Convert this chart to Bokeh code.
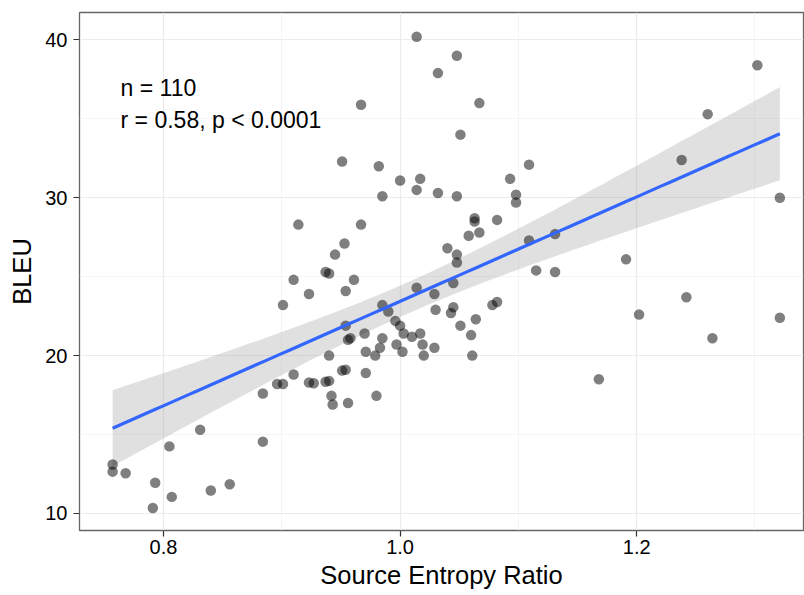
import numpy as np
from bokeh.plotting import figure
from bokeh.models import Range1d, FixedTicker, ColumnDataSource
from bokeh.core.properties import value
from bokeh.embed import file_html
from bokeh.resources import INLINE

# ---- data ----
entropy_ratio = [
    1.014, 1.032, 0.967, 0.951, 0.982, 1.000, 1.017, 1.014, 1.032, 0.985,
    0.914, 0.967, 0.953, 0.945, 1.048, 1.067, 1.051, 1.302, 1.260, 1.238,
    1.109, 1.093, 1.098, 1.098, 1.048, 1.321, 1.063, 1.063, 1.082, 1.058,
    1.067, 1.131, 1.109, 1.040, 1.048, 1.048, 1.191, 1.115, 1.131, 1.045,
    1.029, 1.030, 1.045, 1.043, 1.078, 1.082, 1.051, 1.064, 1.060, 1.029,
    1.061, 1.202, 1.242, 1.264, 1.321, 1.168, 0.937, 0.940, 0.910, 0.961,
    0.923, 0.954, 0.901, 1.014, 0.985, 0.990, 0.954, 0.996, 1.000, 1.003,
    1.010, 1.017, 0.970, 0.958, 0.956, 0.985, 0.983, 0.971, 0.979, 0.997,
    1.002, 1.019, 1.020, 0.940, 0.910, 0.896, 0.901, 0.923, 0.927, 0.937,
    0.940, 0.951, 0.954, 0.971, 0.942, 0.943, 0.956, 0.980, 0.884, 0.884,
    0.831, 0.805, 0.757, 0.757, 0.768, 0.793, 0.807, 0.840, 0.856, 0.791,
]
bleu = [
    40.2, 37.9, 35.9, 32.3, 32.0, 31.1, 31.2, 30.5, 30.3, 30.1,
    28.3, 28.3, 27.1, 26.4, 39.0, 36.0, 34.0, 38.4, 35.3, 32.4,
    32.1, 31.2, 30.2, 29.7, 30.1, 30.0, 28.7, 28.5, 28.6, 27.6,
    27.8, 27.7, 27.3, 26.8, 26.4, 25.9, 26.1, 25.4, 25.3, 24.6,
    23.9, 22.9, 23.06, 22.7, 23.2, 23.4, 21.9, 22.3, 21.3, 20.5,
    20.0, 22.6, 23.7, 21.1, 22.4, 18.5, 25.3, 25.2, 24.8, 24.8,
    23.9, 24.1, 23.2, 24.3, 23.2, 22.8, 21.9, 22.2, 21.9, 21.4,
    21.2, 21.4, 21.4, 21.1, 21.0, 21.1, 20.5, 20.25, 20.0, 20.7,
    20.25, 20.7, 20.0, 20.0, 18.8, 18.2, 18.2, 18.3, 18.25, 18.35,
    18.4, 19.05, 19.1, 18.9, 17.45, 16.9, 17.0, 17.45, 17.6, 14.55,
    15.3, 14.25, 13.1, 12.65, 12.55, 11.95, 11.05, 11.45, 11.85, 10.35,
]
x_ticks = [0.8, 1.0, 1.2]
x_minor = [0.7, 0.9, 1.1, 1.3]
y_ticks = [10, 20, 30, 40]
y_minor = [15, 25, 35]
annot_lines = ["n = 110", "r = 0.58, p < 0.0001"]
annot_x = [0.7637, 0.7637]
annot_y = [36.95, 34.95]
x_label = "Source Entropy Ratio"
y_label = "BLEU"

# ---- linear fit with 95% confidence band ----
xa = np.array(entropy_ratio)
ya = np.array(bleu)
n = len(xa)
slope, intercept = np.polyfit(xa, ya, 1)
resid = ya - (slope * xa + intercept)
s = np.sqrt(np.sum(resid ** 2) / (n - 2))
xbar = xa.mean()
sxx = np.sum((xa - xbar) ** 2)
xs = np.linspace(xa.min(), xa.max(), 80)
fit = slope * xs + intercept
se = s * np.sqrt(1.0 / n + (xs - xbar) ** 2 / sxx)
tval = 1.982
band = ColumnDataSource(dict(x=xs, lo=fit - tval * se, hi=fit + tval * se, fit=fit))

FONT = "Liberation Sans"

p = figure(width=804, height=595, output_backend="svg", toolbar_location=None,
           x_range=Range1d(0.729, 1.341), y_range=Range1d(8.92, 41.74),
           min_border_left=79, min_border_top=12, min_border_right=1, min_border_bottom=65)
p.background_fill_color = "white"
p.border_fill_color = "white"
p.outline_line_color = "#666666"
p.outline_line_width = 1.3

# grid
p.xgrid.ticker = FixedTicker(ticks=x_ticks, minor_ticks=x_minor)
p.ygrid.ticker = FixedTicker(ticks=y_ticks, minor_ticks=y_minor)
for g in (p.xgrid, p.ygrid):
    g.grid_line_color = "#EBEBEB"
    g.grid_line_width = 1.2
    g.minor_grid_line_color = "#F2F2F2"
    g.minor_grid_line_width = 0.8

# axes
p.xaxis.ticker = FixedTicker(ticks=x_ticks)
p.yaxis.ticker = FixedTicker(ticks=y_ticks)
p.xaxis.major_label_overrides = {0.8: "0.8", 1.0: "1.0", 1.2: "1.2"}
for ax in (p.xaxis, p.yaxis):
    ax.axis_line_color = None
    ax.major_tick_line_color = "#333333"
    ax.major_tick_line_width = 1.2
    ax.major_tick_out = 6
    ax.major_tick_in = 0
    ax.minor_tick_line_color = None
    ax.major_label_text_font = FONT
    ax.major_label_text_font_size = "20px"
    ax.major_label_text_color = "black"
    ax.axis_label_text_font = FONT
    ax.axis_label_text_font_size = "25.5px"
    ax.axis_label_text_font_style = "normal"
    ax.axis_label_text_color = "black"
p.xaxis.axis_label = x_label
p.yaxis.axis_label = y_label
p.xaxis.major_label_standoff = 3
p.xaxis.axis_label_standoff = 4
p.yaxis.major_label_standoff = 6
p.yaxis.axis_label_standoff = 6

# confidence band + fit line
p.varea(x="x", y1="lo", y2="hi", source=band, fill_color="#999999", fill_alpha=0.3)
p.scatter(xa, ya, size=10.5, fill_color="black", fill_alpha=0.5, line_color=None)
p.line(x="x", y="fit", source=band, line_color="#3366FF", line_width=3.2)

# annotation
p.text(x=annot_x, y=annot_y, text=annot_lines, text_font=value(FONT),
       text_font_size="23px", text_color="black", text_align="left",
       text_baseline="alphabetic")

open("out.html", "w").write(file_html(p, INLINE))
